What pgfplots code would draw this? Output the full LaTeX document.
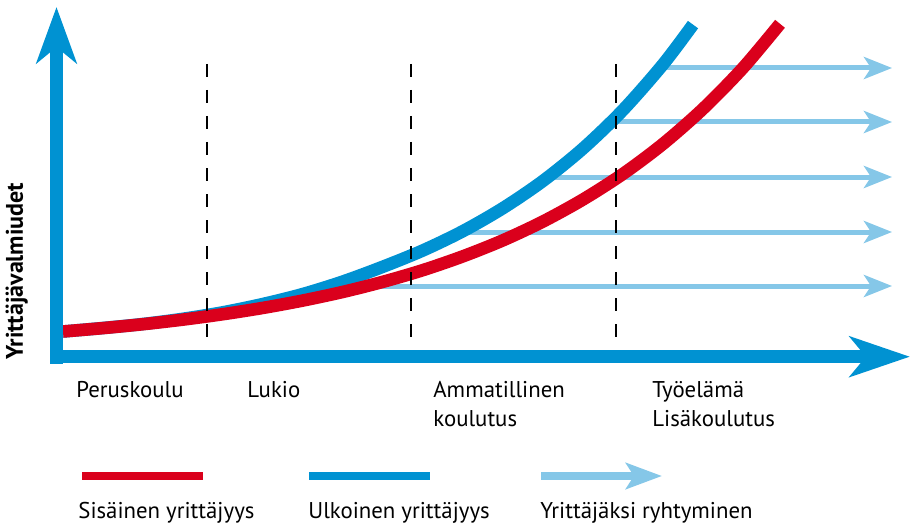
\documentclass[border=0pt]{standalone}
\usepackage{pgfplots}
\pgfplotsset{compat=1.18}
\usetikzlibrary{arrows.meta}
\usepackage{fontspec}
\setmainfont{PT Sans}
\definecolor{cblue}{RGB}{0,146,210}
\definecolor{cred}{RGB}{218,0,28}
\definecolor{clight}{RGB}{133,199,232}
\tikzset{lbl/.style={anchor=base west, font=\fontsize{11.4}{13}\selectfont, inner sep=0pt}}
\begin{document}
\begin{tikzpicture}
\begin{axis}[
  width=455pt, height=262pt, scale only axis,
  xmin=0, xmax=910, ymin=0, ymax=524, y dir=reverse,
  axis lines=none, clip=false,
  every axis plot/.append style={no markers},
]
\coordinate (BL) at (axis cs:0,524);
\coordinate (TR) at (axis cs:910,0);
% light blue arrows
\addplot[clight, line width=2.5pt, -{Stealth[length=14pt,width=11pt,inset=3.5pt]}] coordinates {(360,286) (892,286)};
\addplot[clight, line width=2.5pt, -{Stealth[length=14pt,width=11pt,inset=3.5pt]}] coordinates {(461,232) (892,232)};
\addplot[clight, line width=2.5pt, -{Stealth[length=14pt,width=11pt,inset=3.5pt]}] coordinates {(545,177) (892,177)};
\addplot[clight, line width=2.5pt, -{Stealth[length=14pt,width=11pt,inset=3.5pt]}] coordinates {(612,122) (892,122)};
\addplot[clight, line width=2.5pt, -{Stealth[length=14pt,width=11pt,inset=3.5pt]}] coordinates {(661,68) (892,68)};
% curves
\addplot[cblue, line width=6.3pt, smooth] coordinates {
(63,331.5) (103,328.0) (143,324.0) (183,318.8) (223,312.3) (263,304.0) (303,294.0) (343,281.5) (383,266.7) (423,250.4) (463,231.1) (503,208.1) (543,180.9) (583,148.5) (623,110.0) (663,64.4) (693,24.6)};
\addplot[cred, line width=6.3pt, smooth] coordinates {
(63,331.5) (103,328.1) (143,324.2) (183,319.6) (223,314.2) (263,307.9) (303,300.5) (343,291.9) (383,281.8) (423,270.1) (463,256.3) (503,240.3) (543,221.5) (583,199.5) (623,173.9) (663,143.9) (703,108.8) (743,67.9) (780,23.8)};
% dashed lines
\addplot[black, line width=1.25pt, dash pattern=on 6.5pt off 6.5pt] coordinates {(207,64) (207,376)};
\addplot[black, line width=1.25pt, dash pattern=on 6.5pt off 6.5pt] coordinates {(411,64) (411,376)};
\addplot[black, line width=1.25pt, dash pattern=on 6.5pt off 6.5pt] coordinates {(616,64) (616,376)};
% axes
\addplot[cblue, line width=6.6pt, -{Stealth[length=28pt,width=20pt,inset=8pt]}] coordinates {(56.5,363.5) (56.5,7)};
\addplot[cblue, line width=6.6pt, -{Stealth[length=30pt,width=20pt,inset=8pt]}] coordinates {(50,356.7) (910,356.7)};
% legend
\addplot[cred, line width=4pt] coordinates {(82,476) (203,476)};
\addplot[cblue, line width=4pt] coordinates {(309,476) (430,476)};
\addplot[clight, line width=4pt, -{Stealth[length=18pt,width=13pt,inset=4pt]}] coordinates {(541,476) (662,476)};
% labels
\node[lbl] at (axis cs:76,397) {Peruskoulu};
\node[lbl] at (axis cs:247,397) {Lukio};
\node[lbl] at (axis cs:433,397) {Ammatillinen};
\node[lbl] at (axis cs:433,426) {koulutus};
\node[lbl] at (axis cs:652,397) {Työelämä};
\node[lbl] at (axis cs:652,426) {Lisäkoulutus};
\node[lbl] at (axis cs:78,518) {Sisäinen yrittäjyys};
\node[lbl] at (axis cs:308,518) {Ulkoinen yrittäjyys};
\node[lbl] at (axis cs:540,518) {Yrittäjäksi ryhtyminen};
\node[lbl, rotate=90, font=\fontsize{12}{14}\selectfont\bfseries] at (axis cs:23,360) {Yrittäjävalmiudet};
\end{axis}
\pgfresetboundingbox
\path[use as bounding box] (BL) rectangle (TR);
\end{tikzpicture}
\end{document}
